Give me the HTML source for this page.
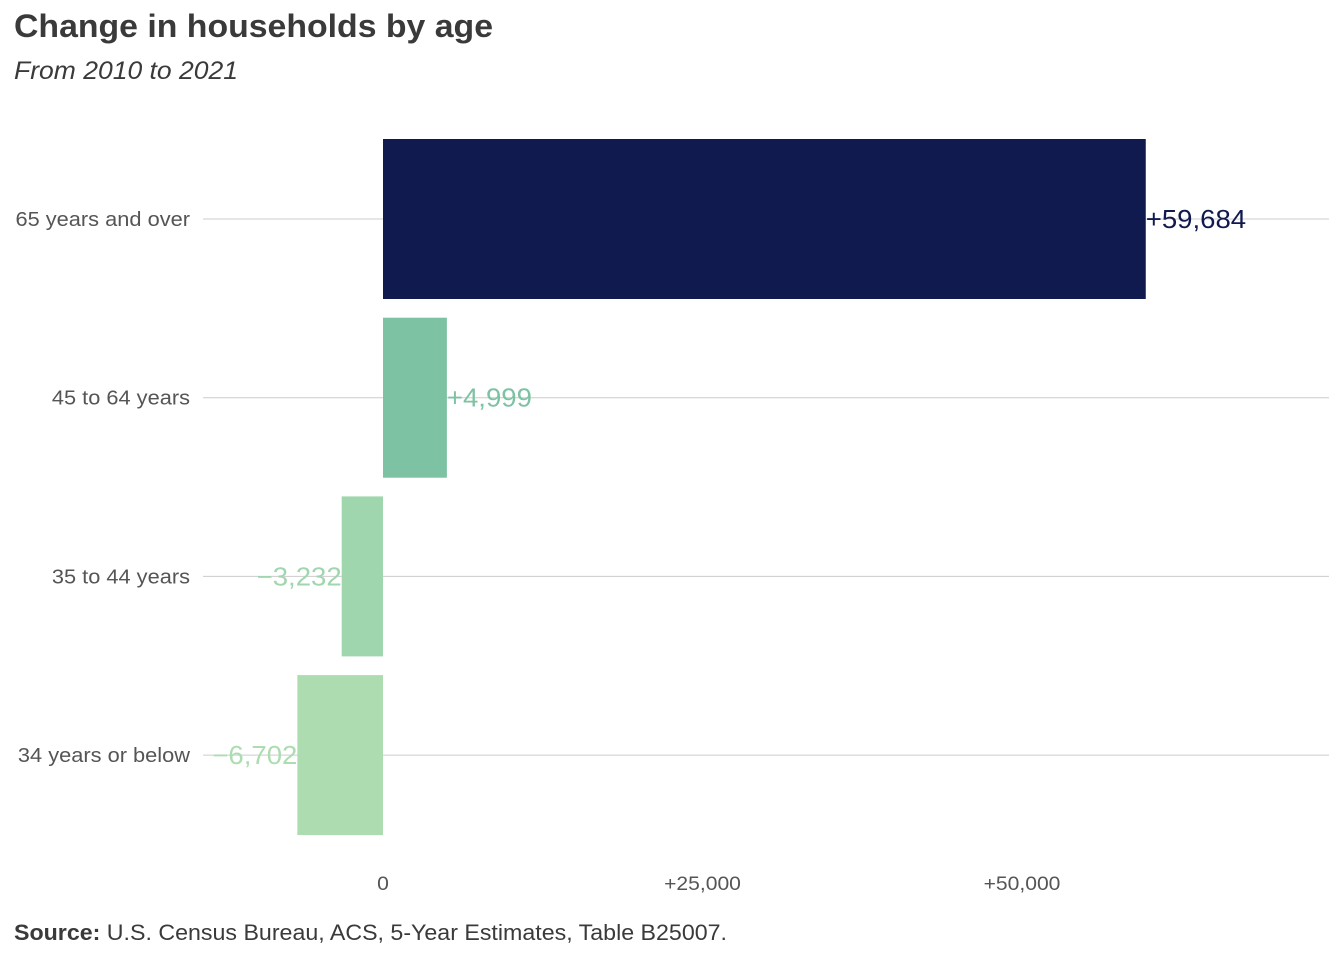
<!DOCTYPE html>
<html><head><meta charset="utf-8"><style>
body{margin:0;background:#fff;width:1344px;height:960px;overflow:hidden;font-family:"Liberation Sans","DejaVu Sans",sans-serif;}
</style></head><body>
<svg width="1344" height="960" xmlns="http://www.w3.org/2000/svg">
<text x="14" y="37" font-size="32" font-weight="bold" fill="#3a3a3a" textLength="479" lengthAdjust="spacingAndGlyphs">Change in households by age</text>
<text x="14" y="79" font-size="25" font-style="italic" fill="#3a3a3a" textLength="224" lengthAdjust="spacingAndGlyphs">From 2010 to 2021</text>
<g id="grid"></g><g id="bars"></g><g id="ylabels"></g><g id="xticks"></g>
<text x="14" y="940" font-size="22" fill="#3a3a3a" textLength="713" lengthAdjust="spacingAndGlyphs"><tspan font-weight="bold">Source:</tspan> U.S. Census Bureau,  ACS, 5-Year Estimates,  Table B25007.</text>
</svg>
<script>
const categories=["65 years and over","45 to 64 years","35 to 44 years","34 years or below"];
const values=[59684,4999,-3232,-6702];
const valueLabels=["+59,684","+4,999","\u22123,232","\u22126,702"];
const colors=["#111a4e","#7dc2a3","#9fd6ae","#acdcb0"];
const tickValues=[0,25000,50000];
const tickLabels=["0","+25,000","+50,000"];
const NS="http://www.w3.org/2000/svg";
const x=v=>383+v*639/50000;
const yc=i=>219+i*178.7;
const bh=160;
function mk(tag,attrs,parent,text){const e=document.createElementNS(NS,tag);for(const k in attrs)e.setAttribute(k,attrs[k]);if(text!==undefined)e.textContent=text;document.getElementById(parent).appendChild(e);return e;}
function widen(t,f){const w=t.getComputedTextLength();t.setAttribute('textLength',w*f);t.setAttribute('lengthAdjust','spacingAndGlyphs');}
categories.forEach((c,i)=>{
  const g=mk("line",{x1:203,x2:1329,y1:yc(i),y2:yc(i),stroke:"#cccccc","stroke-width":1},"grid");
  
  
  const v=values[i];
  const r=mk("rect",{x:Math.min(x(0),x(v)),y:yc(i)-bh/2,width:Math.abs(x(v)-x(0)),height:bh,fill:colors[i]},"bars");
  
  
  const t=mk("text",{x:x(v),y:yc(i)+9,"font-size":26,fill:colors[i],"text-anchor":v>=0?"start":"end"},"bars",valueLabels[i]);
  
  
  widen(t,1.06);
  const l=mk("text",{x:190,y:yc(i)+7,"font-size":20,fill:"#555","text-anchor":"end"},"ylabels",c);
  
  
  widen(l,1.09);
});
tickValues.forEach((v,i)=>{
  const t=mk("text",{x:x(v),y:890,"font-size":19,fill:"#555","text-anchor":"middle"},"xticks",tickLabels[i]);
  
  
  widen(t,1.11);
});
</script>
</body></html>
